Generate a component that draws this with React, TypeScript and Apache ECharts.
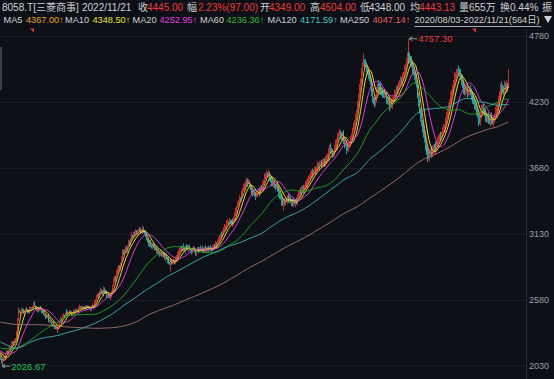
import React, { useEffect, useRef } from "react";
import * as echarts from "echarts";

// ---- data ----
// 250 daily closes before the visible window (only used for the moving averages)
const PRE_CLOSES = [
  2480, 2470, 2455, 2440, 2425, 2410, 2420, 2435, 2450, 2440,
  2430, 2445, 2460, 2475, 2470, 2460, 2455, 2470, 2490, 2500,
  2510, 2495, 2485, 2500, 2515, 2530, 2520, 2510, 2505, 2495,
  2480, 2490, 2505, 2520, 2535, 2540, 2525, 2515, 2500, 2510,
  2525, 2540, 2555, 2550, 2540, 2530, 2545, 2560, 2570, 2565,
  2555, 2545, 2560, 2575, 2590, 2585, 2570, 2560, 2550, 2565,
  2580, 2575, 2560, 2550, 2545, 2555, 2570, 2585, 2580, 2570,
  2560, 2555, 2565, 2580, 2590, 2600, 2595, 2585, 2575, 2570,
  2580, 2595, 2610, 2605, 2590, 2580, 2570, 2560, 2575, 2590,
  2600, 2610, 2620, 2615, 2605, 2595, 2585, 2590, 2600, 2610,
  2620, 2630, 2625, 2615, 2600, 2590, 2580, 2595, 2610, 2620,
  2615, 2600, 2585, 2570, 2560, 2550, 2540, 2530, 2545, 2560,
  2550, 2535, 2520, 2510, 2525, 2540, 2555, 2545, 2530, 2520,
  2540, 2560, 2575, 2590, 2580, 2570, 2585, 2600, 2590, 2575,
  2560, 2545, 2530, 2510, 2480, 2440, 2400, 2370, 2340, 2320,
  2250, 2280, 2220, 2150, 2180, 2100, 2020, 1950, 2000, 1920,
  1880, 1950, 2050, 2120, 2100,
  2180, 2150, 2200, 2230, 2210, 2190, 2220, 2250, 2240, 2210,
  2230, 2260, 2280, 2270, 2250, 2230, 2260, 2280, 2300, 2290,
  2270, 2250, 2240, 2230, 2220,
  2190, 2170, 2150, 2130, 2140, 2160, 2150, 2130, 2120, 2140,
  2160, 2180, 2200, 2190, 2175, 2185, 2210, 2240, 2260, 2280,
  2270, 2250, 2230, 2220, 2240, 2230, 2210, 2200, 2190, 2180,
  2195, 2210, 2200, 2185, 2170, 2160, 2175, 2190, 2180, 2165,
  2150, 2145, 2160, 2175, 2185, 2170, 2155, 2140, 2150, 2165,
  2180, 2170, 2155, 2145, 2160, 2175, 2165, 2150, 2140, 2120,
];

// 564 visible daily closes, 2020/08/03 - 2022/11/21
const CLOSES = [
  2090, 2055, 2045, 2080, 2110, 2095, 2125, 2150, 2135, 2165,
  2180, 2160, 2195, 2215, 2230, 2210, 2240, 2260, 2300, 2420,
  2490, 2470, 2455, 2480, 2500, 2485, 2470, 2490, 2505, 2495,
  2480, 2470, 2490, 2510, 2500, 2515, 2530, 2545, 2530, 2510,
  2495, 2505, 2490, 2500, 2515, 2505, 2485, 2470, 2455, 2460,
  2440, 2430, 2445, 2420, 2400, 2410, 2390, 2375, 2385, 2360,
  2350, 2335, 2345, 2325, 2340, 2370, 2395, 2420, 2410, 2440,
  2455, 2445, 2465, 2480, 2470, 2460, 2475, 2490, 2470, 2455,
  2465, 2480, 2475, 2490, 2500, 2485, 2495, 2510, 2520, 2505,
  2515, 2525, 2510, 2500, 2515, 2530, 2520, 2510, 2525, 2515,
  2505, 2520, 2530, 2515, 2540, 2560, 2580, 2600, 2625, 2610,
  2640, 2660, 2645, 2630, 2655, 2670, 2650, 2635, 2615, 2625,
  2610, 2600, 2620, 2640, 2660, 2700, 2740, 2770, 2760, 2800,
  2830, 2855, 2840, 2880, 2920, 2960, 2985, 2970, 2995, 3010,
  2990, 3030, 3060, 3050, 3080, 3100, 3115, 3105, 3130, 3120,
  3140, 3130, 3150, 3165, 3155, 3145, 3160, 3150, 3170, 3145,
  3140, 3110, 3090, 3070, 3055, 3040, 3060, 3035, 3020, 3035,
  3025, 3010, 3000, 2985, 2990, 2975, 2980, 2960, 2970, 2955,
  2965, 2950, 2930, 2945, 2920, 2905, 2915, 2890, 2880, 2900,
  2885, 2895, 2910, 2890, 2920, 2940, 2930, 2960, 2985, 2995,
  3010, 3000, 3020, 3005, 2990, 3010, 3025, 3015, 3000, 3020,
  3005, 2990, 2980, 2995, 3010, 2995, 2985, 2970, 2990, 3000,
  2990, 3005, 2995, 3010, 3000, 2985, 3000, 3015, 3005, 2995,
  3010, 3000, 3015, 3005, 2995, 3010, 3020, 3035, 3025, 3040,
  3035, 3060, 3080, 3105, 3120, 3110, 3140, 3160, 3175, 3185,
  3190, 3215, 3230, 3220, 3235, 3225, 3215, 3230, 3220, 3260,
  3290, 3320, 3350, 3380, 3400, 3430, 3420, 3450, 3470, 3500,
  3520, 3540, 3555, 3570, 3550, 3560, 3540, 3510, 3490, 3480,
  3465, 3470, 3455, 3440, 3460, 3475, 3490, 3470, 3500, 3515,
  3510, 3540, 3570, 3600, 3615, 3630, 3620, 3640, 3625, 3600,
  3580, 3560, 3540, 3550, 3530, 3520, 3535, 3510, 3495, 3470,
  3450, 3430, 3400, 3385, 3400, 3390, 3420, 3410, 3430, 3420,
  3410, 3425, 3405, 3395, 3380, 3400, 3390, 3405, 3395, 3410,
  3440, 3460, 3480, 3470, 3495, 3510, 3500, 3525, 3540, 3530,
  3550, 3570, 3590, 3610, 3620, 3640, 3630, 3650, 3660, 3645,
  3665, 3680, 3700, 3690, 3710, 3725, 3705, 3720, 3735, 3715,
  3730, 3745, 3760, 3790, 3820, 3850, 3835, 3810, 3790, 3800,
  3820, 3850, 3880, 3910, 3935, 3960, 3975, 3950, 3935, 3960,
  3945, 3900, 3870, 3880, 3860, 3845, 3860, 3880, 3910, 3940,
  3960, 3990, 4020, 4060, 4100, 4150, 4210, 4280, 4340, 4390,
  4430, 4480, 4540, 4570, 4555, 4540, 4510, 4470, 4450, 4420,
  4400, 4360, 4300, 4260, 4230, 4210, 4260, 4320, 4370, 4355,
  4345, 4360, 4330, 4310, 4300, 4285, 4300, 4280, 4250, 4230,
  4240, 4215, 4205, 4220, 4210, 4240, 4270, 4290, 4310, 4335,
  4325, 4345, 4360, 4390, 4410, 4400, 4430, 4460, 4485, 4520,
  4560, 4600, 4620, 4590, 4580, 4570, 4540, 4500, 4480, 4450,
  4420, 4380, 4330, 4280, 4220, 4160, 4110, 4050, 4010, 3960,
  3920, 3870, 3840, 3810, 3790, 3780, 3800, 3820, 3805, 3830,
  3845, 3830, 3860, 3850, 3870, 3890, 3920, 3940, 3935, 3960,
  3985, 4000, 4015, 4040, 4080, 4110, 4150, 4180, 4230, 4280,
  4310, 4340, 4370, 4400, 4430, 4445, 4470, 4490, 4480, 4470,
  4440, 4410, 4380, 4350, 4330, 4315, 4325, 4335, 4310, 4320,
  4330, 4305, 4290, 4270, 4250, 4230, 4210, 4190, 4150, 4120,
  4090, 4075, 4110, 4140, 4160, 4180, 4165, 4130, 4100, 4085,
  4095, 4080, 4070, 4085, 4100, 4075, 4065, 4080, 4110, 4140,
  4170, 4205, 4240, 4290, 4320, 4360, 4345, 4330, 4320, 4365,
  4350, 4370, 4348, 4445,
];

// upper / lower shadow length per day, in units of WICK_UNIT yen
const WICK_UP = [
  "1021302110", "2103112031", "4120213102", "1302110231", "2103120132",
  "0211302103", "1230210312", "2010321102", "1320110231", "2102310210",
  "1231221312", "2312132231", "1322413214", "3221342213", "2132214123",
  "4321323142", "2341322312", "3214232132", "2143322313", "3321321323",
  "2314231332", "3123322213", "3241323132", "2313243214", "3342142314",
  "2431423342", "3423231432", "4234342143", "2443423413", "3425342413",
  "4352423524", "3245342135", "4532453243", "3425534243", "5342435243",
  "4253423534", "3542435243", "4352534243", "5436425354", "4453524365",
  "4539253475", "5346254536", "4563546253", "5436542635", "4653546374",
  "5634756453", "4756453647", "5463745365", "4536475463", "5647354635",
  "4563745364", "5374635463", "4653746354", "5463745365", "4756364537",
  "5364736456", "4630",
].join("");
const WICK_DN = [
  "2130212013", "1202311201", "2031201320", "2013021302", "1320213012",
  "3102120231", "2013213021", "1203120312", "2031201320", "1320213012",
  "2312132213", "3221312132", "2133221342", "1322413221", "3213321412",
  "2134213231", "3122431223", "2313421322", "3224132219", "2132231423",
  "3223142313", "2132231342", "3213322413", "2313213342", "3132241323",
  "2413322413", "3241342324", "2432413242", "3324132423", "2413243324",
  "3524342435", "4253934253", "3425342534", "4352435243", "3542435342",
  "4253524354", "3452435243", "4235342435", "5342935243", "4523542435",
  "3542635243", "4635342536", "5364534253", "4935463524", "5364536453",
  "4536453645", "5463546354", "4653947365", "5364536453", "4536453645",
  "5463546354", "4653546364", "5364536453", "9463546354", "4536453645",
  "5463546354", "3650",
].join("");
const WICK_UNIT = 7;

const PEAK = { index: 452, high: 4757.3 };
const TROUGH = { index: 2, low: 2026.67 };
const LAST = { open: 4349, high: 4504, low: 4348, close: 4445 };

const MA_PERIODS = [5, 10, 20, 60, 120, 250];
const MA_LAST = ["4367.00", "4348.50", "4252.95", "4236.36", "4171.59", "4047.14"];
const Y_TICKS = [2030, 2580, 3130, 3680, 4230, 4780];
const PAD_DAYS = 19; // empty room right of the last candle

const QUOTE = {
  code: "8058.T[三菱商事]",
  date: "2022/11/21",
  close: "4445.00",
  change: "2.23%(97.00)",
  open: "4349.00",
  high: "4504.00",
  low: "4348.00",
  avg: "4443.13",
  vol: "量655万",
  turn: "换0.44%",
  range: "2020/08/03-2022/11/21(564日)",
};

// ---- derived tables ----
function tradingDays(n: number) {
  const out: string[] = [];
  const d = new Date(2020, 7, 3);
  while (out.length < n) {
    const wd = d.getDay();
    if (wd !== 0 && wd !== 6) {
      out.push(`${d.getFullYear()}/${String(d.getMonth() + 1).padStart(2, "0")}/${String(d.getDate()).padStart(2, "0")}`);
    }
    d.setDate(d.getDate() + 1);
  }
  return out;
}
const categories = tradingDays(CLOSES.length).concat(Array(PAD_DAYS).fill(""));

const candles = CLOSES.map((c, i) => {
  const o = i === 0 ? PRE_CLOSES[PRE_CLOSES.length - 1] : CLOSES[i - 1];
  const hi = Math.max(o, c) + Number(WICK_UP[i]) * WICK_UNIT;
  const lo = Math.min(o, c) - Number(WICK_DN[i]) * WICK_UNIT;
  return [o, c, lo, hi];
});
candles[PEAK.index][3] = PEAK.high;
candles[TROUGH.index][2] = TROUGH.low;
candles[candles.length - 1] = [LAST.open, LAST.close, LAST.low, LAST.high];

const allCloses = PRE_CLOSES.concat(CLOSES);
function movingAverage(n: number) {
  return CLOSES.map((_, i) => {
    const j = i + PRE_CLOSES.length;
    if (j + 1 < n) return "-";
    let s = 0;
    for (let k = j - n + 1; k <= j; k++) s += allCloses[k];
    return +(s / n).toFixed(2);
  });
}

const BG = "#0d1016";
const UP = "#e8373c";
const DOWN = "#2fc2c2";
const MA_COLORS = ["#f0a030", "#e6e032", "#e040e0", "#22a622", "#3fb4b4", "#a87272"];
const MA_TEXT = ["#f0a030", "#e6e032", "#e040e0", "#33bb33", "#4cc4c4", "#e86262"];
const WHITE = "#cfd2d6";
const RED = "#ee3a3a";
const FONT = '"Liberation Sans", "DejaVu Sans", "Noto Sans CJK SC", sans-serif';

function txt(x: number, y: number, text: string, fill: string, size: number) {
  return {
    type: "text",
    x,
    y,
    silent: true,
    style: { text, fill, fontSize: size, fontFamily: FONT, verticalAlign: "middle", align: "left" },
  };
}

export default function App() {
  const ref = useRef<HTMLDivElement>(null);
  useEffect(() => {
    const chart = echarts.init(ref.current!, null, { renderer: "svg" });
    const option: any = {
      animation: false,
      backgroundColor: BG,
      grid: { left: 0, right: 28, top: 36, bottom: 13.3, containLabel: false },
      xAxis: {
        type: "category",
        data: categories,
        boundaryGap: true,
        axisLine: { show: false },
        axisTick: { show: false },
        axisLabel: { show: false },
        splitLine: { show: false },
      },
      yAxis: {
        type: "value",
        position: "right",
        min: Y_TICKS[0],
        max: Y_TICKS[Y_TICKS.length - 1],
        interval: Y_TICKS[1] - Y_TICKS[0],
        axisLine: { show: false },
        axisTick: { show: false },
        axisLabel: {
          color: "#9ca1a8",
          fontSize: 9,
          fontFamily: FONT,
          margin: 3,
          formatter: (v: number) => String(v),
        },
        splitLine: { show: true, lineStyle: { color: "#1a1e25", width: 1 } },
      },
      series: [
        {
          type: "candlestick",
          data: candles,
          barWidth: 0.6,
          clip: false,
          z: 2,
          itemStyle: { color: UP, color0: DOWN, borderColor: UP, borderColor0: DOWN, borderWidth: 0.8 },
        },
        ...MA_PERIODS.map((n, k) => ({
          type: "line",
          name: "MA" + n,
          data: movingAverage(n),
          showSymbol: false,
          symbol: "none",
          clip: false,
          z: 3 + k,
          lineStyle: { color: MA_COLORS[k], width: 1 },
        })),
      ],
    };
    chart.setOption(option);

    const pk = chart.convertToPixel({ xAxisIndex: 0, yAxisIndex: 0 }, [PEAK.index, PEAK.high]) as number[];
    const tr = chart.convertToPixel({ xAxisIndex: 0, yAxisIndex: 0 }, [TROUGH.index, TROUGH.low]) as number[];

    const r1 = 7;
    const r2 = 20;
    const s2 = 9.2;
    const g: any[] = [
      txt(2, r1, QUOTE.code, WHITE, 10),
      txt(82, r1, QUOTE.date, WHITE, 10),
      txt(138, r1, "收", WHITE, 10),
      txt(147, r1, QUOTE.close, RED, 10),
      txt(187, r1, "幅", WHITE, 10),
      txt(198, r1, QUOTE.change, RED, 10),
      txt(260, r1, "开", WHITE, 10),
      txt(269, r1, QUOTE.open, RED, 10),
      txt(310, r1, "高", WHITE, 10),
      txt(320, r1, QUOTE.high, RED, 10),
      txt(360, r1, "低", WHITE, 10),
      txt(369, r1, QUOTE.low, WHITE, 10),
      txt(410, r1, "均", WHITE, 10),
      txt(419, r1, QUOTE.avg, RED, 10),
      txt(459, r1, QUOTE.vol, WHITE, 10),
      txt(500, r1, QUOTE.turn, WHITE, 10),
      txt(542, r1, "振", WHITE, 10),
    ];
    const maX = [[3.5, 26], [65, 92.5], [132.5, 159.5], [200, 226.5], [267.5, 300], [340, 372.5]];
    MA_PERIODS.forEach((n, k) => {
      g.push(txt(maX[k][0], r2, "MA" + n, WHITE, s2));
      g.push(txt(maX[k][1], r2, MA_LAST[k] + "↑", MA_TEXT[k], s2));
    });
    g.push(txt(414.5, r2, QUOTE.range, WHITE, s2));
    g.push({ type: "line", silent: true, shape: { x1: 414.5, y1: 26.5, x2: 541, y2: 26.5 }, style: { stroke: WHITE, lineWidth: 0.8 } });
    g.push({ type: "polygon", silent: true, shape: { points: [[544, 16], [552, 16], [548, 23]] }, style: { fill: WHITE } });

    // right separator, left scroll mark, red event flags
    g.push({ type: "line", silent: true, shape: { x1: 526.5, y1: 29, x2: 526.5, y2: 379 }, style: { stroke: "#262b33", lineWidth: 1 } });
    g.push({ type: "rect", silent: true, shape: { x: 0, y: 47, width: 2, height: 43 }, style: { fill: "#3c414a" } });
    [32, 474].forEach((fx) => {
      g.push({ type: "polygon", silent: true, shape: { points: [[fx - 2, 28.5], [fx + 2, 28.5], [fx + 2, 32.5]] }, style: { fill: RED } });
    });

    // max / min markers
    g.push({ type: "line", silent: true, shape: { x1: pk[0] + 1, y1: pk[1], x2: pk[0] + 9, y2: pk[1] }, style: { stroke: "#9a9a9a", lineWidth: 1 } });
    g.push({ type: "polyline", silent: true, shape: { points: [[pk[0] + 4, pk[1] - 2], [pk[0] + 1, pk[1]], [pk[0] + 4, pk[1] + 2]] }, style: { stroke: "#9a9a9a", lineWidth: 1, fill: "none" } });
    g.push(txt(pk[0] + 10, pk[1], PEAK.high.toFixed(2), RED, 9.5));
    g.push({ type: "line", silent: true, shape: { x1: tr[0], y1: tr[1], x2: tr[0] + 8, y2: tr[1] }, style: { stroke: "#9a9a9a", lineWidth: 1 } });
    g.push({ type: "polyline", silent: true, shape: { points: [[tr[0] + 3, tr[1] - 2], [tr[0], tr[1]], [tr[0] + 3, tr[1] + 2]] }, style: { stroke: "#9a9a9a", lineWidth: 1, fill: "none" } });
    g.push(txt(tr[0] + 9, tr[1], TROUGH.low.toFixed(2), "#22c15a", 9.5));

    chart.setOption({ graphic: g });
    return () => chart.dispose();
  }, []);
  return <div ref={ref} style={{ position: "fixed", left: 0, top: 0, width: 554, height: 379 }} />;
}
